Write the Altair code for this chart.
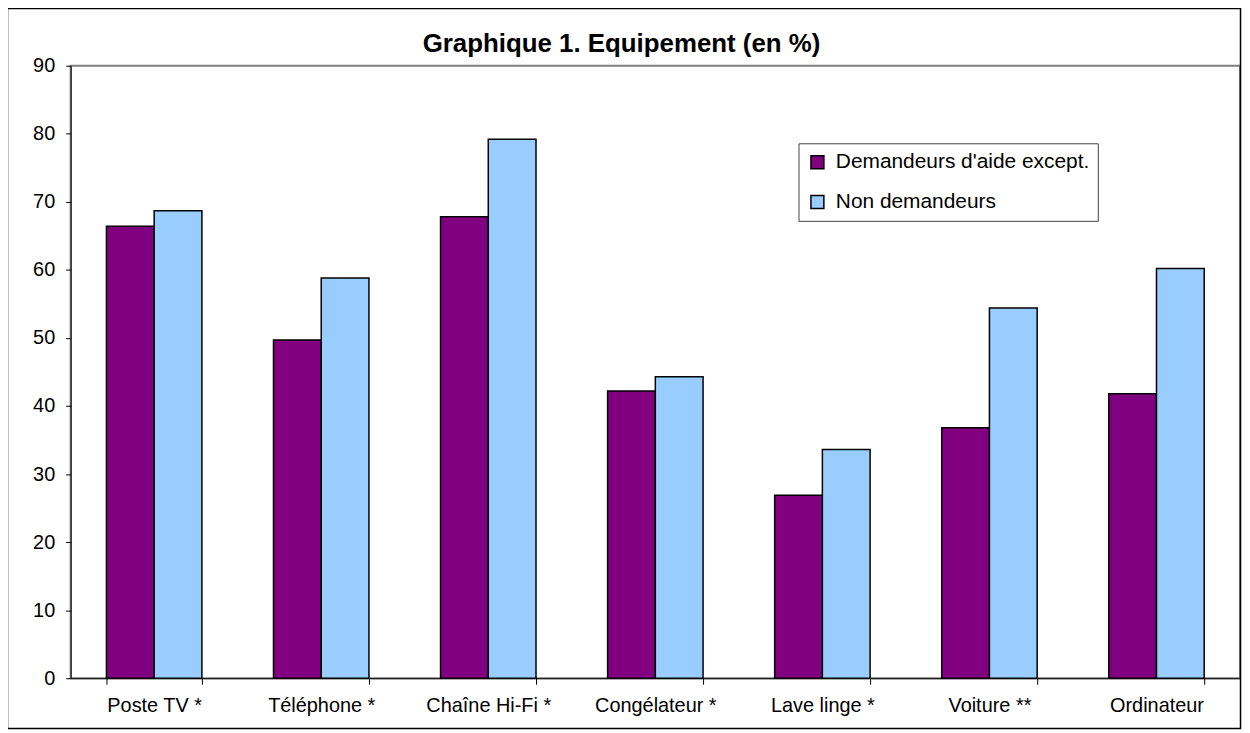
import altair as alt
import pandas as pd

title_text = "Graphique 1. Equipement (en %)"
categories = ["Poste TV *", "Téléphone *", "Chaîne Hi-Fi *", "Congélateur *",
              "Lave linge *", "Voiture **", "Ordinateur"]
series = ["Demandeurs d'aide except.", "Non demandeurs"]
demandeurs = [66.4, 49.7, 67.8, 42.2, 26.9, 36.8, 41.8]
non_demandeurs = [68.7, 58.8, 79.2, 44.3, 33.6, 54.4, 60.2]
colors = ["#800080", "#99CCFF"]
y_ticks = list(range(0, 91, 10))

rows = []
for c, a, b in zip(categories, demandeurs, non_demandeurs):
    rows.append({"cat": c, "series": series[0], "value": a})
    rows.append({"cat": c, "series": series[1], "value": b})
df = pd.DataFrame(rows)

FONT = "Liberation Sans"
W, H = 1176, 616

one = pd.DataFrame({"a": [0]})

frame = alt.Chart(one).mark_rect(
    fillOpacity=0, stroke="#000", strokeWidth=1.5
).encode(
    x=alt.value(-63.5), x2=alt.value(W + 0.5),
    y=alt.value(-57.5), y2=alt.value(H + 50.5)
)

title = alt.Chart(one).mark_text(
    text=title_text, font=FONT, fontSize=26, fontWeight="bold",
    color="#000", align="center", baseline="alphabetic"
).encode(x=alt.value(554), y=alt.value(-14))

bars = alt.Chart(df).mark_bar(stroke="#000", strokeWidth=1.5).encode(
    x=alt.X("cat:N", sort=categories, title=None,
            scale=alt.Scale(paddingInner=72 / 168, paddingOuter=36 / 168),
            axis=alt.Axis(labelAngle=0, tickBand="extent", tickSize=6,
                          labelPadding=11, labelFontSize=20, labelFont=FONT,
                          labelColor="#000", domainColor="#000",
                          tickColor="#000", labelLimit=300)),
    xOffset=alt.XOffset("series:N", sort=series,
                        scale=alt.Scale(paddingInner=0, paddingOuter=0)),
    y=alt.Y("value:Q", title=None,
            scale=alt.Scale(domain=[0, 90], nice=False),
            axis=alt.Axis(values=y_ticks, grid=False, tickSize=5,
                          labelPadding=11, labelFontSize=20, labelFont=FONT,
                          labelColor="#000", domainColor="#000",
                          tickColor="#000")),
    color=alt.Color("series:N", sort=series,
                    scale=alt.Scale(domain=series, range=colors),
                    legend=alt.Legend(title=None, orient="none",
                                      legendX=732, legendY=78,
                                      padding=8.5, strokeColor="#444",
                                      fillColor="#fff",
                                      symbolType="square", symbolSize=169,
                                      symbolStrokeColor="#000",
                                      symbolStrokeWidth=1.5,
                                      labelFontSize=21, labelFont=FONT,
                                      labelColor="#000", labelOffset=8,
                                      rowPadding=18, labelLimit=400)),
)

chart = alt.layer(frame, title, bars).properties(
    width=W, height=H,
    autosize=alt.AutoSizeParams(type="none"),
    padding={"left": 63, "top": 56, "right": 2, "bottom": 52},
).configure_view(stroke="#808080", strokeWidth=2)

chart.save("out.html", embed_options={"renderer": "svg", "actions": False})
